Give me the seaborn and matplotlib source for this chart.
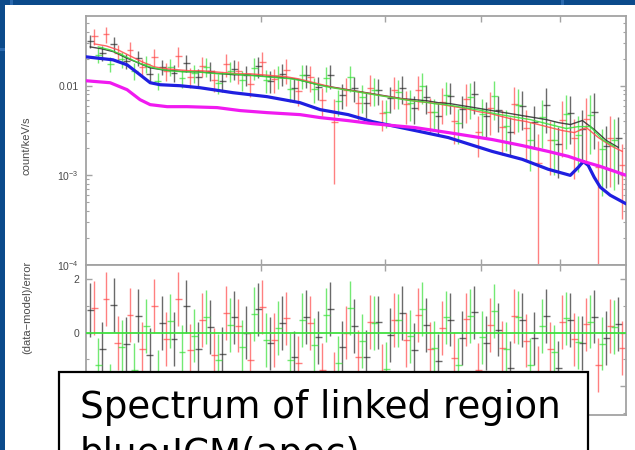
import numpy as np
import pandas as pd
import matplotlib
matplotlib.use("Agg")
import matplotlib.pyplot as plt
from matplotlib.patches import Rectangle
from matplotlib.ticker import FixedLocator, FixedFormatter, NullFormatter, LogLocator
import seaborn as sns

# ---- spectra: bin centre energy (keV), rate (count/keV/s), relative 1-sigma error, folded model ----
black_energy = [2.019, 2.076, 2.134, 2.195, 2.257, 2.320, 2.386, 2.453, 2.523, 2.594,
                2.667, 2.743, 2.820, 2.900, 2.982, 3.066, 3.153, 3.242, 3.333, 3.427,
                3.524, 3.624, 3.726, 3.831, 3.939, 4.051, 4.165, 4.283, 4.404, 4.528,
                4.656, 4.788, 4.923, 5.062, 5.205, 5.352, 5.503, 5.659, 5.819, 5.983,
                6.152, 6.326, 6.505, 6.688, 6.877]
black_rate = [0.0316, 0.02326, 0.02929, 0.01896, 0.02047, 0.01359, 0.01626, 0.01395, 0.01801, 0.01259,
              0.01468, 0.01136, 0.01545, 0.01325, 0.01668, 0.01136, 0.01359, 0.00950, 0.01325, 0.00975,
              0.01325, 0.00794, 0.00950, 0.00647, 0.00903, 0.00736, 0.00950, 0.00570, 0.00755, 0.00464,
              0.00774, 0.00555, 0.00815, 0.00464, 0.00541, 0.00308, 0.00599, 0.00398, 0.00615, 0.00221,
              0.00501, 0.00333, 0.00514, 0.00215, 0.00264]
black_relerr = [0.17, 0.18, 0.18, 0.19, 0.19, 0.20, 0.20, 0.21, 0.21, 0.22,
                0.24, 0.25, 0.25, 0.26, 0.26, 0.27, 0.27, 0.28, 0.28, 0.29,
                0.30, 0.30, 0.31, 0.32, 0.32, 0.33, 0.34, 0.35, 0.36, 0.37,
                0.38, 0.39, 0.40, 0.42, 0.43, 0.45, 0.47, 0.50, 0.52, 0.58,
                0.55, 0.60, 0.62, 0.66, 0.70]
black_model = [0.02712, 0.02577, 0.02387, 0.02047, 0.01801, 0.01585, 0.01506, 0.01468, 0.01431, 0.01431,
               0.01395, 0.01359, 0.01325, 0.01325, 0.01292, 0.01259, 0.01227, 0.01196, 0.01108, 0.01026,
               0.00975, 0.00926, 0.00880, 0.00836, 0.00794, 0.00755, 0.00717, 0.00699, 0.00681, 0.00647,
               0.00631, 0.00599, 0.00570, 0.00541, 0.00514, 0.00489, 0.00464, 0.00441, 0.00419, 0.00388,
               0.00369, 0.00409, 0.00324, 0.00245, 0.00205]

red_energy = [2.038, 2.095, 2.154, 2.215, 2.278, 2.342, 2.408, 2.476, 2.546, 2.618,
              2.692, 2.768, 2.846, 2.927, 3.010, 3.094, 3.182, 3.272, 3.364, 3.459,
              3.557, 3.658, 3.761, 3.867, 3.976, 4.089, 4.204, 4.323, 4.445, 4.570,
              4.699, 4.832, 4.969, 5.109, 5.253, 5.402, 5.554, 5.712, 5.873, 6.039,
              6.209, 6.385, 6.565, 6.750, 6.941]
red_rate = [0.03594, 0.03782, 0.02326, 0.02512, 0.01626, 0.02101, 0.01468, 0.02154, 0.01259, 0.01668,
            0.01166, 0.01756, 0.01468, 0.01052, 0.01848, 0.01196, 0.01506, 0.00880, 0.01259, 0.00699,
            0.00398, 0.00903, 0.00647, 0.00950, 0.00501, 0.00903, 0.00631, 0.00903, 0.00514, 0.00664,
            0.00408, 0.00717, 0.00308, 0.00570, 0.00350, 0.00631, 0.00341, 0.00139, 0.00251, 0.00419,
            0.00258, 0.00430, 0.00123, 0.00264, 0.00129]
red_relerr = [0.20, 0.21, 0.21, 0.22, 0.22, 0.23, 0.23, 0.24, 0.25, 0.25,
              0.27, 0.28, 0.28, 0.29, 0.30, 0.30, 0.31, 0.32, 0.33, 0.34,
              0.80, 0.35, 0.36, 0.37, 0.38, 0.39, 0.40, 0.41, 0.42, 0.43,
              0.45, 0.46, 0.48, 0.50, 0.52, 0.54, 0.56, 1.10, 0.60, 0.62,
              0.65, 0.68, 0.95, 0.72, 0.75]
red_model = [0.02929, 0.02783, 0.02512, 0.02154, 0.01848, 0.01626, 0.01545, 0.01506, 0.01468, 0.01468,
             0.01431, 0.01395, 0.01359, 0.01359, 0.01325, 0.01292, 0.01259, 0.01196, 0.01108, 0.01026,
             0.00950, 0.00903, 0.00858, 0.00815, 0.00774, 0.00736, 0.00699, 0.00664, 0.00647, 0.00615,
             0.00584, 0.00555, 0.00514, 0.00489, 0.00452, 0.00419, 0.00398, 0.00369, 0.00341, 0.00316,
             0.00300, 0.00341, 0.00264, 0.00215, 0.00185]

green_energy = [2.057, 2.115, 2.174, 2.236, 2.299, 2.363, 2.431, 2.499, 2.570, 2.643,
                2.717, 2.794, 2.873, 2.954, 3.038, 3.123, 3.212, 3.303, 3.395, 3.491,
                3.590, 3.692, 3.796, 3.903, 4.013, 4.127, 4.243, 4.363, 4.486, 4.613,
                4.743, 4.878, 5.015, 5.157, 5.302, 5.452, 5.606, 5.765, 5.928, 6.095,
                6.267, 6.444, 6.626, 6.813]
green_rate = [0.02210, 0.01756, 0.01995, 0.01468, 0.01756, 0.01136, 0.01626, 0.01227, 0.01395, 0.01626,
              0.01080, 0.01468, 0.01166, 0.01585, 0.01166, 0.01292, 0.00926, 0.01325, 0.00926, 0.01227,
              0.00681, 0.01259, 0.00755, 0.00903, 0.00514, 0.00858, 0.00647, 0.01000, 0.00514, 0.00794,
              0.00388, 0.00755, 0.00489, 0.00774, 0.00359, 0.00615, 0.00251, 0.00452, 0.00251, 0.00489,
              0.00285, 0.00476, 0.00195, 0.00245]
green_relerr = [0.19, 0.20, 0.20, 0.21, 0.21, 0.22, 0.22, 0.23, 0.23, 0.24,
                0.25, 0.26, 0.26, 0.27, 0.28, 0.28, 0.29, 0.30, 0.30, 0.31,
                0.32, 0.33, 0.34, 0.34, 0.35, 0.36, 0.37, 0.38, 0.39, 0.40,
                0.42, 0.43, 0.44, 0.46, 0.48, 0.50, 0.55, 0.55, 0.60, 0.60,
                0.62, 0.64, 0.70, 0.72]
green_model = [0.02712, 0.02512, 0.02210, 0.01896, 0.01668, 0.01545, 0.01468, 0.01431, 0.01431, 0.01395,
               0.01359, 0.01359, 0.01325, 0.01292, 0.01259, 0.01227, 0.01196, 0.01136, 0.01052, 0.00975,
               0.00926, 0.00880, 0.00836, 0.00794, 0.00755, 0.00717, 0.00681, 0.00664, 0.00631, 0.00615,
               0.00584, 0.00555, 0.00528, 0.00489, 0.00464, 0.00441, 0.00419, 0.00388, 0.00359, 0.00333,
               0.00350, 0.00350, 0.00251, 0.00210]

# ---- model components ----
icm_energy = [2.000, 2.129, 2.200, 2.267, 2.321, 2.375, 2.488, 2.605, 2.813, 3.044,
              3.286, 3.443, 3.674, 3.884, 4.293, 4.635, 5.132, 5.502, 5.844, 6.151,
              6.267, 6.339, 6.413, 6.503, 6.593, 6.749, 7.005]
icm_model = [0.0210, 0.01945, 0.01711, 0.01325, 0.0108, 0.01026, 0.0100, 0.0095, 0.00836, 0.00755,
             0.00647, 0.00541, 0.00476, 0.00398, 0.00316, 0.00264, 0.00185, 0.00151, 0.00117, 0.00100,
             0.00123, 0.00143, 0.00129, 0.00095, 0.00074, 0.00060, 0.00048]

comp2_energy = [2.000, 2.115, 2.200, 2.267, 2.321, 2.414, 2.529, 2.711, 2.860, 3.044,
                3.286, 3.443, 3.674, 3.884, 4.293, 4.635, 5.132, 5.502, 5.844, 6.123,
                6.339, 6.593, 7.005]
comp2_model = [0.01136, 0.01080, 0.00903, 0.00699, 0.00615, 0.00584, 0.00584, 0.00570, 0.00528, 0.00501,
               0.00476, 0.00441, 0.00408, 0.00378, 0.00341, 0.00300, 0.00251, 0.00215, 0.00185, 0.00163,
               0.00143, 0.00126, 0.00100]

# ---- styling ----
SLIDE_BLUE = "#0b4a8b"
FRAME = "#a3a3a3"
LABEL = "#4a4a4a"
BIN = 1.0081  # half-width of the horizontal error bars in log energy
W, H = 635, 450

sns.set_style("ticks")
plt.rcParams["font.family"] = ["Liberation Sans", "DejaVu Sans"]
plt.rcParams["mathtext.fontset"] = "custom"
plt.rcParams["mathtext.rm"] = "Liberation Sans"

fig = plt.figure(figsize=(W / 100, H / 100), dpi=100)
fig.patch.set_facecolor(SLIDE_BLUE)

# slide page
fig.add_artist(Rectangle((5 / W, 0), 630 / W, 445 / H, transform=fig.transFigure,
                         facecolor="white", edgecolor="none", zorder=-2))
for (x0, y0, w, h) in [(10, 0, 3, 5), (561, 0, 3, 5), (0, 48, 5, 3)]:
    fig.add_artist(Rectangle((x0 / W, 1 - (y0 + h) / H), w / W, h / H, transform=fig.transFigure,
                             facecolor="#2a68ad", edgecolor="none", zorder=-1))

ax = fig.add_axes([86 / W, 185 / H, 540 / W, 249 / H])
axr = fig.add_axes([86 / W, 35 / H, 540 / W, 150 / H])

for a in (ax, axr):
    a.set_xscale("log")
    a.set_xlim(2.0, 7.0)
    a.set_facecolor("white")
    for s in a.spines.values():
        s.set_color(FRAME)
        s.set_linewidth(1.3)
    a.xaxis.set_major_locator(FixedLocator([3, 4, 5, 6]))
    a.xaxis.set_minor_locator(FixedLocator([]))
    a.xaxis.set_major_formatter(NullFormatter())
    a.xaxis.set_minor_formatter(NullFormatter())
    a.tick_params(which="both", direction="in", top=True, right=True, bottom=True, left=True,
                  color=FRAME, labelcolor=LABEL, labelsize=7.5, pad=5)
    a.tick_params(which="major", length=4, width=1)
    a.tick_params(which="minor", length=2.5, width=0.8)

ax.set_yscale("log")
ax.set_ylim(1e-4, 0.05995)
ax.yaxis.set_major_locator(FixedLocator([1e-4, 1e-3, 1e-2]))
ax.yaxis.set_major_formatter(FixedFormatter(["$10^{-4}$", "$10^{-3}$", "0.01"]))
ax.yaxis.set_minor_locator(LogLocator(base=10, subs=np.arange(2, 10)))
ax.yaxis.set_minor_formatter(NullFormatter())

axr.set_ylim(-3.07, 2.52)
axr.yaxis.set_major_locator(FixedLocator([2, 0, -2]))
axr.yaxis.set_major_formatter(FixedFormatter(["2", "0", "-2"]))
axr.yaxis.set_minor_locator(FixedLocator([1, -1, -3]))

series = [
    (black_energy, black_rate, black_relerr, black_model, "#2b2b2b"),
    (red_energy, red_rate, red_relerr, red_model, "#ff4a4a"),
    (green_energy, green_rate, green_relerr, green_model, "#38e038"),
]

for energy, rate, relerr, model, col in series:
    e = np.asarray(energy)
    r = np.asarray(rate)
    m = np.asarray(model)
    err = np.asarray(relerr) * r
    xerr = [e - e / BIN, e * BIN - e]
    ax.errorbar(e, r, yerr=err, xerr=xerr, fmt="none", ecolor=col,
                elinewidth=1.0, alpha=0.7, zorder=2)
    df = pd.DataFrame({"energy": e, "model": m})
    sns.lineplot(data=df, x="energy", y="model", ax=ax, color=col, lw=1.0, alpha=0.85,
                 estimator=None, legend=False, zorder=3)
    resid = (r - m) / err
    axr.errorbar(e, resid, yerr=1.0, xerr=xerr, fmt="none", ecolor=col,
                 elinewidth=1.0, alpha=0.7, zorder=2)

axr.axhline(0, color="#3ce03c", lw=1.4, alpha=0.9, zorder=3)

comp_df = pd.DataFrame({"energy": icm_energy, "model": icm_model})
sns.lineplot(data=comp_df, x="energy", y="model", ax=ax, color="#1f1fe0", lw=2.3,
             estimator=None, legend=False, zorder=4)
comp_df2 = pd.DataFrame({"energy": comp2_energy, "model": comp2_model})
sns.lineplot(data=comp_df2, x="energy", y="model", ax=ax, color="#f01af0", lw=2.3,
             estimator=None, legend=False, zorder=4)

for a in (ax, axr):
    a.set_xlabel("")
    a.set_ylabel("")

fig.text(27 / W, 1 - 146 / H, "count/keV/s", rotation=90, ha="center", va="center",
         fontsize=8, color=LABEL)
fig.text(27 / W, 1 - 307 / H, "(data\u2212model)/error", rotation=90, ha="center", va="center",
         fontsize=8, color=LABEL)

# caption box
fig.add_artist(Rectangle((59 / W, -0.1), 529 / W, 0.1 + 78 / H, transform=fig.transFigure,
                         facecolor="white", edgecolor="black", lw=1.6, zorder=20))
fig.text(80 / W, 32 / H, "Spectrum of linked region", fontsize=26.8, family="DejaVu Sans",
         va="baseline", ha="left", color="black", zorder=21)
fig.text(80 / W, -15 / H, "blue:ICM(apec)", fontsize=26.8, family="DejaVu Sans",
         va="baseline", ha="left", color="black", zorder=21)

fig.savefig("out.png", dpi=100, facecolor=fig.get_facecolor())
